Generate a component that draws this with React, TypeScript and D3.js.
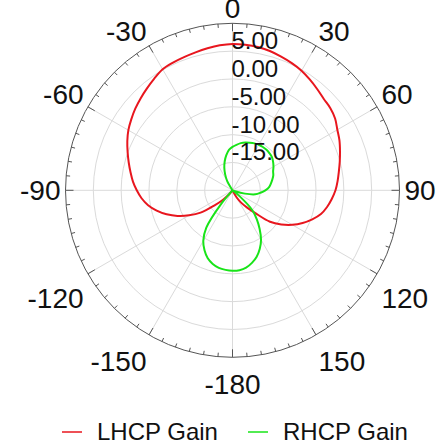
import React from "react";
import * as d3 from "d3";

const ANGLES = [
  -180, -175, -170, -165, -160, -155, -150, -145, -140, -135, -130, -125,
  -120, -115, -110, -105, -100, -95, -90, -85, -80, -75, -70, -65,
  -60, -55, -50, -45, -40, -35, -30, -25, -20, -15, -10, -5,
  0, 5, 10, 15, 20, 25, 30, 35, 40, 45, 50, 55,
  60, 65, 70, 75, 80, 85, 90, 95, 100, 105, 110, 115,
  120, 125, 130, 135, 140, 145, 150, 155, 160, 165, 170, 175,
];

const LHCP = [
  -25, -25, -25, -24.5, -24, -23, -21.5, -20.2, -19.0, -17.6, -15.8, -13.0,
  -11.0, -9.1, -7.4, -5.9, -4.6, -3.6, -2.8, -2.05, -1.4, -0.7, 0.05, 0.85,
  1.6, 2.2, 2.8, 3.35, 3.9, 4.5, 5.1, 5.3, 5.45, 5.65, 5.9, 6.15,
  6.3, 6.25, 6.15, 5.9, 5.55, 5.2, 4.8, 4.25, 3.7, 3.2, 2.95, 2.5,
  1.75, 1.2, 0.55, -0.05, -0.6, -1.05, -1.5, -2.1, -2.75, -3.55, -4.75, -6.1,
  -7.6, -9.3, -11.2, -14.2, -16.0, -17.3, -18.5, -20.5, -23, -24, -25, -25,
];

const RHCP = [
  -5.55, -5.65, -5.85, -6.3, -7.0, -8.1, -9.5, -11.8, -17.0, -22, -25, -25,
  -25, -25, -25, -25, -25, -25, -25, -25, -25, -25, -25, -25,
  -25, -25, -25, -25, -25, -21, -18.1, -16.9, -15.7, -14.6, -13.6, -12.7,
  -12.2, -11.8, -11.4, -11.1, -10.9, -10.7, -10.55, -10.5, -10.5, -10.6, -10.75, -11.1,
  -11.5, -11.95, -12.2, -12.6, -13.0, -13.4, -14.1, -14.95, -15.85, -17.7, -19.5, -21.5,
  -24, -21.5, -18.3, -15.0, -13.2, -11.5, -9.75, -8.4, -7.3, -6.5, -5.9, -5.6,
];

const RADIAL_TICKS = [-15, -10, -5, 0, 5];
const ANGLE_TICKS = [0, 30, 60, 90, 120, 150, 180, 210, 240, 270, 300, 330];
const ANGLE_LABELS = ["0", "30", "60", "90", "120", "150", "-180", "-150", "-120", "-90", "-60", "-30"];
const SERIES_NAMES = ["LHCP Gain", "RHCP Gain"];
const SERIES_COLORS = ["#e8161e", "#18e418"];

export default function App() {
  const W = 439;
  const H = 444;
  const cx = 232.5;
  const cy = 190.3;
  const R = 167;
  const font = "'Liberation Sans', Arial, sans-serif";

  const r = d3.scaleLinear().domain([-20, 10]).range([0, R]).clamp(true);
  const rad = (deg: number) => (deg * Math.PI) / 180;

  const line = d3
    .lineRadial<[number, number]>()
    .angle((d) => rad(d[0]))
    .radius((d) => r(d[1]))
    .curve(d3.curveCatmullRomClosed.alpha(0.5));

  const lhcpData: [number, number][] = ANGLES.map((a, i) => [a, LHCP[i]]);
  const rhcpData: [number, number][] = ANGLES.map((a, i) => [a, RHCP[i]]);

  const minorTicks = d3.range(0, 360, 5);

  return (
    <div style={{ position: "fixed", left: 0, top: 0 }}>
      <svg width={W} height={H} style={{ display: "block", background: "#fff" }}>
        <g transform={`translate(${cx},${cy})`}>
          {RADIAL_TICKS.map((v) => (
            <circle key={v} r={r(v)} fill="none" stroke="#dadada" strokeWidth={1} />
          ))}
          {ANGLE_TICKS.map((a) => (
            <line
              key={a}
              x1={0}
              y1={0}
              x2={R * Math.sin(rad(a))}
              y2={-R * Math.cos(rad(a))}
              stroke="#dadada"
              strokeWidth={1}
            />
          ))}
          <circle r={R} fill="none" stroke="#555" strokeWidth={1} />
          {minorTicks.map((a) => {
            const len = a % 30 === 0 ? 8 : 4;
            const s = Math.sin(rad(a));
            const c = Math.cos(rad(a));
            return (
              <line
                key={a}
                x1={R * s}
                y1={-R * c}
                x2={(R - len) * s}
                y2={-(R - len) * c}
                stroke="#555"
                strokeWidth={1}
              />
            );
          })}
          <path d={line(lhcpData) || ""} fill="none" stroke={SERIES_COLORS[0]} strokeWidth={2} />
          <path d={line(rhcpData) || ""} fill="none" stroke={SERIES_COLORS[1]} strokeWidth={2} />
          {RADIAL_TICKS.map((v) => (
            <text
              key={v}
              x={-1}
              y={-r(v) - 2}
              fontFamily={font}
              fontSize={24}
              fill="#111"
              textAnchor="start"
            >
              {v.toFixed(2)}
            </text>
          ))}
          {ANGLE_TICKS.map((a, i) => {
            const s = Math.sin(rad(a));
            const c = Math.cos(rad(a));
            const px = (R + 5) * s;
            const py = -(R + 5) * c;
            const anchor = s > 0.1 ? "start" : s < -0.1 ? "end" : "middle";
            const y = c > 0.1 ? py : c < -0.1 ? py + 32 : 10;
            return (
              <text
                key={a}
                x={px}
                y={y}
                textAnchor={anchor}
                fontFamily={font}
                fontSize={28}
                fill="#111"
              >
                {ANGLE_LABELS[i]}
              </text>
            );
          })}
        </g>
        <g>
          {SERIES_NAMES.map((name, i) => {
            const x0 = i === 0 ? 62 : 248;
            return (
              <g key={name}>
                <line x1={x0} x2={x0 + 20} y1={432} y2={432} stroke={SERIES_COLORS[i]} strokeWidth={1.5} />
                <text x={x0 + 35} y={440} fontFamily={font} fontSize={24} fill="#111">
                  {name}
                </text>
              </g>
            );
          })}
        </g>
      </svg>
    </div>
  );
}
